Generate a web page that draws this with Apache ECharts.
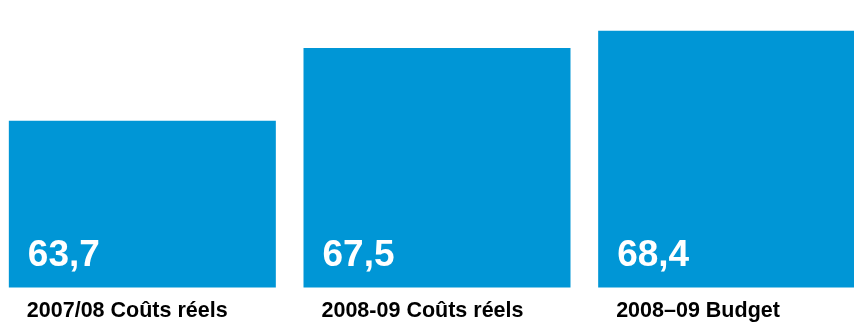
<!DOCTYPE html>
<html>
<head>
<meta charset="utf-8">
<script src="https://cdn.jsdelivr.net/npm/echarts@6/dist/echarts.min.js"></script>
<style>
html,body{margin:0;padding:0;background:#fff;overflow:hidden;width:854px;height:322px;position:relative;}
#chart{position:absolute;left:-5px;top:0;width:884px;height:322px;}
</style>
</head>
<body>
<div id="chart"></div>
<script>
const categories = ['2007/08 Coûts réels', '2008-09 Coûts réels', '2008–09 Budget'];
const values = [63.7, 67.5, 68.4];
const valueLabels = ['63,7', '67,5', '68,4'];

const chart = echarts.init(document.getElementById('chart'));
chart.setOption({
  animation: false,
  grid: { left: 0, right: 0, top: 0, bottom: 34.5 },
  xAxis: {
    type: 'category',
    data: categories,
    axisLine: { show: false },
    axisTick: { show: false },
    axisLabel: {
      margin: 13,
      width: 267,
      align: 'center',
      formatter: v => '{a|' + v + '}',
      rich: {
        a: {
          align: 'left',
          padding: [0, 0, 0, 18],
          fontFamily: '"Liberation Sans", Arial, sans-serif',
          fontWeight: 'bold',
          fontSize: 21.5,
          lineHeight: 21,
          color: '#000'
        }
      }
    }
  },
  yAxis: {
    type: 'value',
    min: 55,
    max: 70,
    show: false,
    splitLine: { show: false }
  },
  series: [{
    type: 'bar',
    data: values,
    barWidth: 267,
    itemStyle: { color: '#0096d6' },
    label: {
      show: true,
      position: 'insideBottomLeft',
      distance: 0,
      offset: [19, -14],
      formatter: p => valueLabels[p.dataIndex],
      fontFamily: '"Liberation Sans", Arial, sans-serif',
      fontWeight: 'bold',
      fontSize: 37,
      lineHeight: 36,
      color: '#fff'
    }
  }]
});
</script>
</body>
</html>
